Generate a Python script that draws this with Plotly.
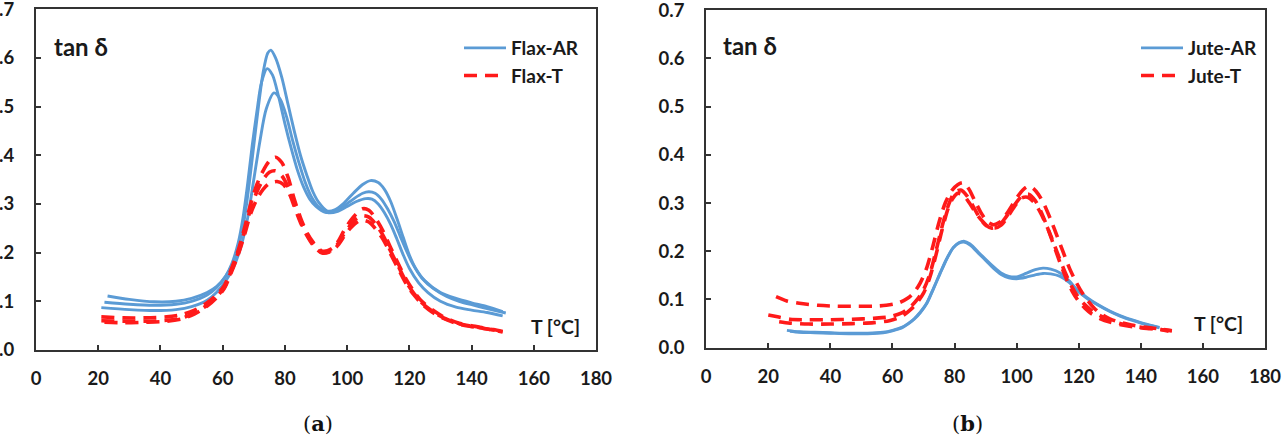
import plotly.graph_objects as go

# ---------------- data ----------------
# (a) Flax – as received (3 specimens)
flax_ar_T1 = [23, 30, 38, 45, 50, 55, 58, 61, 63, 65, 67, 68.5, 70, 71.5, 73, 74.5, 75.5, 77, 79, 81, 83, 85, 87, 89, 91, 93.5, 96, 99, 102, 105, 107.5, 110, 112, 114, 116, 118, 120, 122, 125, 130, 135, 140, 145, 150]
flax_ar_V1 = [0.111, 0.104, 0.099, 0.100, 0.106, 0.118, 0.130, 0.152, 0.175, 0.21, 0.27, 0.34, 0.42, 0.50, 0.57, 0.61, 0.616, 0.60, 0.56, 0.505, 0.45, 0.40, 0.36, 0.325, 0.302, 0.286, 0.288, 0.302, 0.322, 0.340, 0.348, 0.344, 0.33, 0.305, 0.27, 0.232, 0.195, 0.168, 0.142, 0.118, 0.106, 0.097, 0.089, 0.079]
flax_ar_T2 = [22, 30, 38, 45, 50, 55, 58, 61, 63, 65, 66.5, 68, 69.5, 71, 72.5, 74.3, 76, 78, 80, 82, 84, 86, 88, 90, 93, 96, 99, 102, 105, 107, 109, 111, 113, 115, 117, 119, 121, 124, 128, 132, 136, 140, 145, 151]
flax_ar_V2 = [0.098, 0.094, 0.092, 0.094, 0.100, 0.113, 0.128, 0.152, 0.178, 0.22, 0.27, 0.34, 0.42, 0.49, 0.55, 0.578, 0.565, 0.52, 0.465, 0.415, 0.37, 0.335, 0.31, 0.295, 0.283, 0.285, 0.296, 0.31, 0.322, 0.325, 0.322, 0.31, 0.29, 0.265, 0.235, 0.205, 0.178, 0.148, 0.125, 0.11, 0.1, 0.093, 0.085, 0.076]
flax_ar_T3 = [21, 30, 38, 45, 50, 55, 58, 61, 63.5, 66, 68, 70, 72, 74, 76.5, 78.5, 80.5, 82.5, 84.5, 86.5, 88.5, 91, 94, 97, 100, 103, 106, 108, 110, 112, 114, 116, 118, 120, 123, 126, 130, 135, 140, 145, 150]
flax_ar_V3 = [0.087, 0.083, 0.081, 0.083, 0.089, 0.102, 0.118, 0.142, 0.17, 0.215, 0.27, 0.35, 0.43, 0.495, 0.528, 0.515, 0.48, 0.43, 0.385, 0.345, 0.315, 0.293, 0.282, 0.285, 0.295, 0.305, 0.311, 0.31, 0.3, 0.282, 0.258, 0.228, 0.196, 0.168, 0.138, 0.118, 0.1, 0.088, 0.082, 0.077, 0.07]

# (a) Flax – treated (3 specimens)
flax_t_T1 = [21, 28, 35, 42, 47, 51, 55, 58, 60.5, 62.5, 65, 67, 69, 71, 73, 75, 77, 79, 81, 83, 85, 87, 89, 92, 95, 97, 99, 101, 103, 105, 107, 109, 111.5, 114, 117, 119, 121.5, 124, 127.5, 131, 136, 140, 144, 147, 150]
flax_t_V1 = [0.068, 0.066, 0.066, 0.068, 0.073, 0.082, 0.097, 0.113, 0.132, 0.162, 0.205, 0.25, 0.30, 0.34, 0.368, 0.388, 0.396, 0.385, 0.355, 0.31, 0.272, 0.242, 0.222, 0.203, 0.208, 0.222, 0.245, 0.265, 0.28, 0.29, 0.287, 0.272, 0.245, 0.21, 0.17, 0.145, 0.12, 0.1, 0.082, 0.068, 0.055, 0.05, 0.045, 0.042, 0.038]
flax_t_T2 = [21, 28, 35, 42, 47, 51, 55, 58, 60.5, 62.5, 65, 67, 69, 71, 73, 75, 77, 79, 81, 83, 85, 87, 89, 92, 95, 97, 99, 101, 103, 105, 107, 109, 111.5, 114, 117, 119, 121.5, 124, 127.5, 131, 136, 140, 144, 147, 150]
flax_t_V2 = [0.060, 0.059, 0.059, 0.061, 0.066, 0.076, 0.092, 0.109, 0.128, 0.158, 0.2, 0.243, 0.29, 0.325, 0.35, 0.365, 0.368, 0.358, 0.335, 0.3, 0.265, 0.238, 0.218, 0.2, 0.205, 0.218, 0.238, 0.256, 0.27, 0.276, 0.273, 0.26, 0.236, 0.203, 0.165, 0.14, 0.116, 0.097, 0.079, 0.066, 0.054, 0.049, 0.044, 0.041, 0.037]
flax_t_T3 = [22, 28, 35, 42, 47, 51, 55, 58, 60.5, 62.5, 65, 67, 69, 71, 73, 75, 77.5, 79.5, 81.5, 83, 85, 87, 89, 92, 95, 97, 99, 101, 103, 104.5, 107, 109, 111.5, 114, 117, 119, 121.5, 124, 127.5, 131, 136, 140, 144, 148]
flax_t_V3 = [0.057, 0.056, 0.057, 0.059, 0.064, 0.074, 0.09, 0.107, 0.126, 0.155, 0.196, 0.236, 0.28, 0.31, 0.33, 0.342, 0.346, 0.34, 0.32, 0.295, 0.262, 0.236, 0.216, 0.199, 0.203, 0.215, 0.233, 0.25, 0.262, 0.267, 0.263, 0.25, 0.228, 0.197, 0.16, 0.136, 0.113, 0.095, 0.077, 0.065, 0.053, 0.048, 0.044, 0.04]

# (b) Jute – as received (2 specimens)
jute_ar_T1 = [26, 30, 35, 40, 46, 52, 57, 60, 63, 65, 67, 69, 71, 73, 75.3, 77.5, 79.6, 81.5, 83, 85, 88, 90.5, 92.5, 95, 97.5, 100, 103, 106, 108.5, 111, 114, 117, 119.5, 122.5, 126, 130, 133.5, 137, 140, 143, 146]
jute_ar_V1 = [0.036, 0.033, 0.032, 0.031, 0.030, 0.030, 0.032, 0.036, 0.042, 0.05, 0.06, 0.074, 0.092, 0.12, 0.154, 0.185, 0.208, 0.218, 0.221, 0.215, 0.196, 0.18, 0.168, 0.155, 0.148, 0.147, 0.154, 0.162, 0.165, 0.163, 0.155, 0.138, 0.12, 0.105, 0.09, 0.076, 0.066, 0.058, 0.052, 0.047, 0.042]
jute_ar_T2 = [27, 30, 35, 40, 46, 52, 57, 60, 63, 65, 67, 69, 71, 73, 75.3, 77.5, 79.6, 81.5, 83, 85, 88, 90.5, 92.5, 95, 97.5, 100, 103, 106, 108.5, 111, 114, 117, 119.5, 122.5, 126, 130, 133.5, 137, 140, 143, 146]
jute_ar_V2 = [0.034, 0.032, 0.031, 0.030, 0.029, 0.029, 0.031, 0.035, 0.041, 0.049, 0.059, 0.073, 0.091, 0.119, 0.153, 0.184, 0.207, 0.217, 0.219, 0.213, 0.194, 0.178, 0.165, 0.152, 0.145, 0.143, 0.146, 0.151, 0.154, 0.153, 0.148, 0.135, 0.118, 0.103, 0.089, 0.075, 0.065, 0.057, 0.051, 0.046, 0.041]

# (b) Jute – treated (3 specimens)
jute_t_T1 = [22.5, 26, 30, 36, 42, 48, 54, 58, 62, 65, 67, 69, 71, 73, 75, 77, 79, 81, 82.8, 84.5, 86.5, 88.5, 90.5, 92.5, 94.5, 96.5, 98.5, 100.5, 102, 103.5, 105, 107, 109, 111, 113, 115, 117, 119, 121, 123, 125, 127, 130, 133, 137, 141, 145, 150]
jute_t_V1 = [0.106, 0.097, 0.092, 0.088, 0.086, 0.086, 0.086, 0.088, 0.093, 0.103, 0.115, 0.135, 0.165, 0.21, 0.26, 0.3, 0.325, 0.338, 0.342, 0.33, 0.305, 0.28, 0.262, 0.255, 0.26, 0.275, 0.295, 0.315, 0.327, 0.334, 0.332, 0.318, 0.295, 0.265, 0.232, 0.198, 0.165, 0.138, 0.115, 0.097, 0.082, 0.071, 0.06, 0.053, 0.047, 0.043, 0.04, 0.035]
jute_t_T2 = [20, 23, 27, 33, 40, 47, 54, 59, 63, 66, 68, 70, 72, 74, 76, 78, 80, 82, 84, 86, 88, 90, 92, 94, 96, 98, 100, 102, 104, 106, 108, 110, 112, 114, 116, 118, 120, 122, 124, 127, 130, 134, 138, 142, 146, 149]
jute_t_V2 = [0.068, 0.064, 0.059, 0.058, 0.058, 0.059, 0.061, 0.064, 0.072, 0.086, 0.1, 0.12, 0.152, 0.2, 0.252, 0.295, 0.322, 0.327, 0.315, 0.293, 0.27, 0.254, 0.248, 0.252, 0.266, 0.284, 0.302, 0.316, 0.318, 0.305, 0.28, 0.248, 0.212, 0.176, 0.143, 0.116, 0.096, 0.082, 0.071, 0.06, 0.053, 0.047, 0.043, 0.04, 0.038, 0.034]
jute_t_T3 = [23.5, 27, 33, 40, 47, 54, 59, 63, 66, 68, 70, 72, 74, 76, 78, 79.5, 81, 83, 85, 87, 89, 91, 93, 95, 97, 99, 101.5, 103.5, 105.5, 107.5, 109.5, 111.5, 113.5, 115.5, 117.5, 119.5, 121.5, 124, 127, 130, 134, 138, 142, 146, 150]
jute_t_V3 = [0.054, 0.051, 0.049, 0.049, 0.05, 0.052, 0.056, 0.065, 0.08, 0.094, 0.113, 0.145, 0.192, 0.245, 0.29, 0.31, 0.32, 0.315, 0.298, 0.278, 0.262, 0.25, 0.248, 0.254, 0.27, 0.29, 0.31, 0.312, 0.302, 0.282, 0.255, 0.224, 0.19, 0.158, 0.13, 0.108, 0.092, 0.078, 0.066, 0.057, 0.049, 0.044, 0.041, 0.038, 0.035]

x_ticks = [0, 20, 40, 60, 80, 100, 120, 140, 160, 180]
y_ticks = [0.0, 0.1, 0.2, 0.3, 0.4, 0.5, 0.6, 0.7]

# ---------------- styling ----------------
W, H = 1285, 445
BLUE = "#5B9BD5"
RED = "#FF1A1A"
AXC = "#333333"
FONT = "Lato"

fig = go.Figure()


def add(Ts, Vs, name, color, dash, width, xa, ya, legend, show):
    fig.add_trace(go.Scatter(
        x=Ts, y=Vs, mode="lines", name=name,
        line=dict(color=color, width=width, dash=dash, shape="spline", smoothing=0.8),
        xaxis=xa, yaxis=ya, legend=legend, showlegend=show, hoverinfo="skip"))


DASH = "13px,8px"
BW, RW = 2.9, 3.6
add(flax_ar_T1, flax_ar_V1, "Flax-AR", BLUE, "solid", BW, "x", "y", "legend", True)
add(flax_ar_T2, flax_ar_V2, "Flax-AR", BLUE, "solid", BW, "x", "y", "legend", False)
add(flax_ar_T3, flax_ar_V3, "Flax-AR", BLUE, "solid", BW, "x", "y", "legend", False)
add(flax_t_T1, flax_t_V1, "Flax-T", RED, DASH, RW, "x", "y", "legend", True)
add(flax_t_T2, flax_t_V2, "Flax-T", RED, DASH, RW, "x", "y", "legend", False)
add(flax_t_T3, flax_t_V3, "Flax-T", RED, DASH, RW, "x", "y", "legend", False)

add(jute_ar_T1, jute_ar_V1, "Jute-AR", BLUE, "solid", BW, "x2", "y2", "legend2", True)
add(jute_ar_T2, jute_ar_V2, "Jute-AR", BLUE, "solid", BW, "x2", "y2", "legend2", False)
add(jute_t_T1, jute_t_V1, "Jute-T", RED, DASH, RW, "x2", "y2", "legend2", True)
add(jute_t_T2, jute_t_V2, "Jute-T", RED, DASH, RW, "x2", "y2", "legend2", False)
add(jute_t_T3, jute_t_V3, "Jute-T", RED, DASH, RW, "x2", "y2", "legend2", False)

tickfont = dict(family=FONT, size=18.5, color="#1a1a1a", weight="bold")
common_x = dict(range=[0, 180.0001], tickvals=x_ticks, ticks="inside", ticklen=5, tickwidth=1.5,
                tickcolor=AXC, showline=True, mirror=True, linecolor=AXC, linewidth=2.2,
                showgrid=False, zeroline=False, tickfont=tickfont, automargin=False,
                ticklabelstandoff=11, ticklabeloverflow="allow", fixedrange=True)
common_y = dict(range=[0, 0.70001], tickvals=y_ticks, tickformat=".1f", ticks="inside", ticklen=5,
                tickwidth=1.5, tickcolor=AXC, showline=True, mirror=True, linecolor=AXC,
                linewidth=2.2, showgrid=False, zeroline=False, tickfont=tickfont,
                automargin=False, ticklabelstandoff=16, ticklabeloverflow="allow",
                fixedrange=True)

legfont = dict(family=FONT, size=19, color="#1a1a1a", weight="bold")

fig.update_layout(
    width=W, height=H, margin=dict(l=0, r=0, t=0, b=0),
    paper_bgcolor="white", plot_bgcolor="white",
    xaxis=dict(domain=[36 / W, 596 / W], anchor="y", **common_x),
    yaxis=dict(domain=[(H - 350) / H, (H - 9.2) / H], anchor="x", **common_y),
    xaxis2=dict(domain=[706.2 / W, 1265 / W], anchor="y2", **common_x),
    yaxis2=dict(domain=[(H - 347.7) / H, (H - 10.1) / H], anchor="x2", **common_y),
    legend=dict(x=459 / W, y=(H - 29) / H, xanchor="left", yanchor="top", font=legfont,
                bgcolor="rgba(0,0,0,0)", itemwidth=42, tracegroupgap=0),
    legend2=dict(x=1136 / W, y=(H - 29) / H, xanchor="left", yanchor="top", font=legfont,
                 bgcolor="rgba(0,0,0,0)", itemwidth=42, tracegroupgap=0),
    showlegend=True,
)

labfont = dict(family=FONT, size=24, color="#1a1a1a", weight="bold")
tfont = dict(family=FONT, size=19.5, color="#1a1a1a", weight="bold")
capfont = dict(family="DejaVu Serif", size=21, color="#111111")
fig.add_annotation(text="tan δ", x=52 / W, y=(H - 46.5) / H, xref="paper", yref="paper",
                   xanchor="left", yanchor="middle", showarrow=False, font=labfont)
fig.add_annotation(text="tan δ", x=720.5 / W, y=(H - 45) / H, xref="paper", yref="paper",
                   xanchor="left", yanchor="middle", showarrow=False, font=labfont)
fig.add_annotation(text="T [°C]", x=555 / W, y=(H - 326.7) / H, xref="paper", yref="paper",
                   xanchor="center", yanchor="middle", showarrow=False, font=tfont)
fig.add_annotation(text="T [°C]", x=1218 / W, y=(H - 323) / H, xref="paper", yref="paper",
                   xanchor="center", yanchor="middle", showarrow=False, font=tfont)
fig.add_annotation(text="(<b>a</b>)", x=318 / W, y=(H - 423) / H, xref="paper", yref="paper",
                   xanchor="center", yanchor="middle", showarrow=False, font=capfont)
fig.add_annotation(text="(<b>b</b>)", x=967 / W, y=(H - 423) / H, xref="paper", yref="paper",
                   xanchor="center", yanchor="middle", showarrow=False, font=capfont)

fig.write_html("out.html")
